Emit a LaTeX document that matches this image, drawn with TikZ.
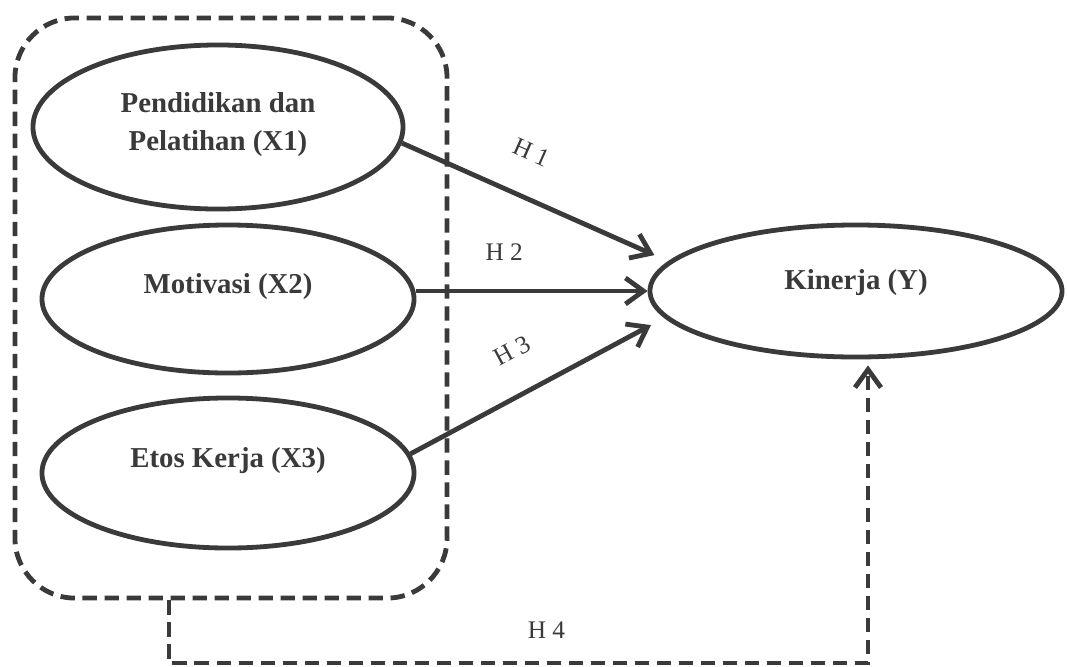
\documentclass[tikz,border=0pt]{standalone}
\usepackage{fontspec}
\setmainfont{Liberation Serif}
\usetikzlibrary{shapes.geometric, arrows.meta, positioning}

\definecolor{ink}{HTML}{3A3A3A}

\tikzset{
  var/.style={draw=ink, ellipse, line width=0.12cm, inner sep=0pt},
  vartext/.style={text=ink, font=\fontsize{20.5}{27}\selectfont\bfseries, align=center},
  hyp/.style={text=ink, font=\fontsize{18}{22}\selectfont, inner sep=0pt},
  arr/.style={color=ink, line width=0.12cm, -{Straight Barb[length=0.45cm, width=0.65cm]}},
  dashline/.style={dash pattern=on 0.36cm off 0.19cm},
  grpbox/.style={draw=ink, line width=0.12cm, dashline, rounded corners=1.5cm},
}

\begin{document}
\begin{tikzpicture}[x=0.025cm, y=-0.025cm]
    \useasboundingbox[fill=white] (0,0) rectangle (1067,666);

    % kotak variabel bebas
    \node[grpbox, minimum width=10.8cm, minimum height=14.5cm] (grp) at (231,308) {};

    % variabel
    \node[var, minimum width=9.25cm, minimum height=4.1cm,
          label={[vartext, yshift=0.06cm]center:{Pendidikan dan\\Pelatihan (X1)}}] (x1) at (218,127) {};
    \node[var, minimum width=9.3cm, minimum height=3.7cm,
          label={[vartext, yshift=0.3cm]center:Motivasi (X2)}] (x2) at (228,299) {};
    \node[var, minimum width=9.3cm, minimum height=3.75cm,
          label={[vartext, yshift=0.3cm]center:Etos Kerja (X3)}] (x3) at (228,473) {};
    \node[var, minimum width=10.3cm, minimum height=3.3cm,
          label={[vartext, yshift=0.22cm]center:Kinerja (Y)}] (y) at (856,291) {};

    % hipotesis
    \path[arr]
    (x1.-5) edge[shorten >=0.38cm] node[hyp, sloped, above=0.83cm, pos=0.42] {H 1} (y.171)
    (x2.east |- y.west) edge node[hyp, above=0.71cm, pos=0.38] {H 2} (y.west)
    (x3.6) edge[shorten >=0.38cm] node[hyp, sloped, above=0.8cm, pos=0.48] {H 3} (y.188);

    \coordinate (h4a) at (169,663);
    \coordinate (h4b) at (868,663);
    \draw[arr, dashline, shorten >=0.15cm] (grp.south -| h4a) -- (h4a)
        -- node[hyp, above=0.55cm, pos=0.54] {H 4} (h4b) -- (h4b |- y.south);

\end{tikzpicture}
\end{document}
